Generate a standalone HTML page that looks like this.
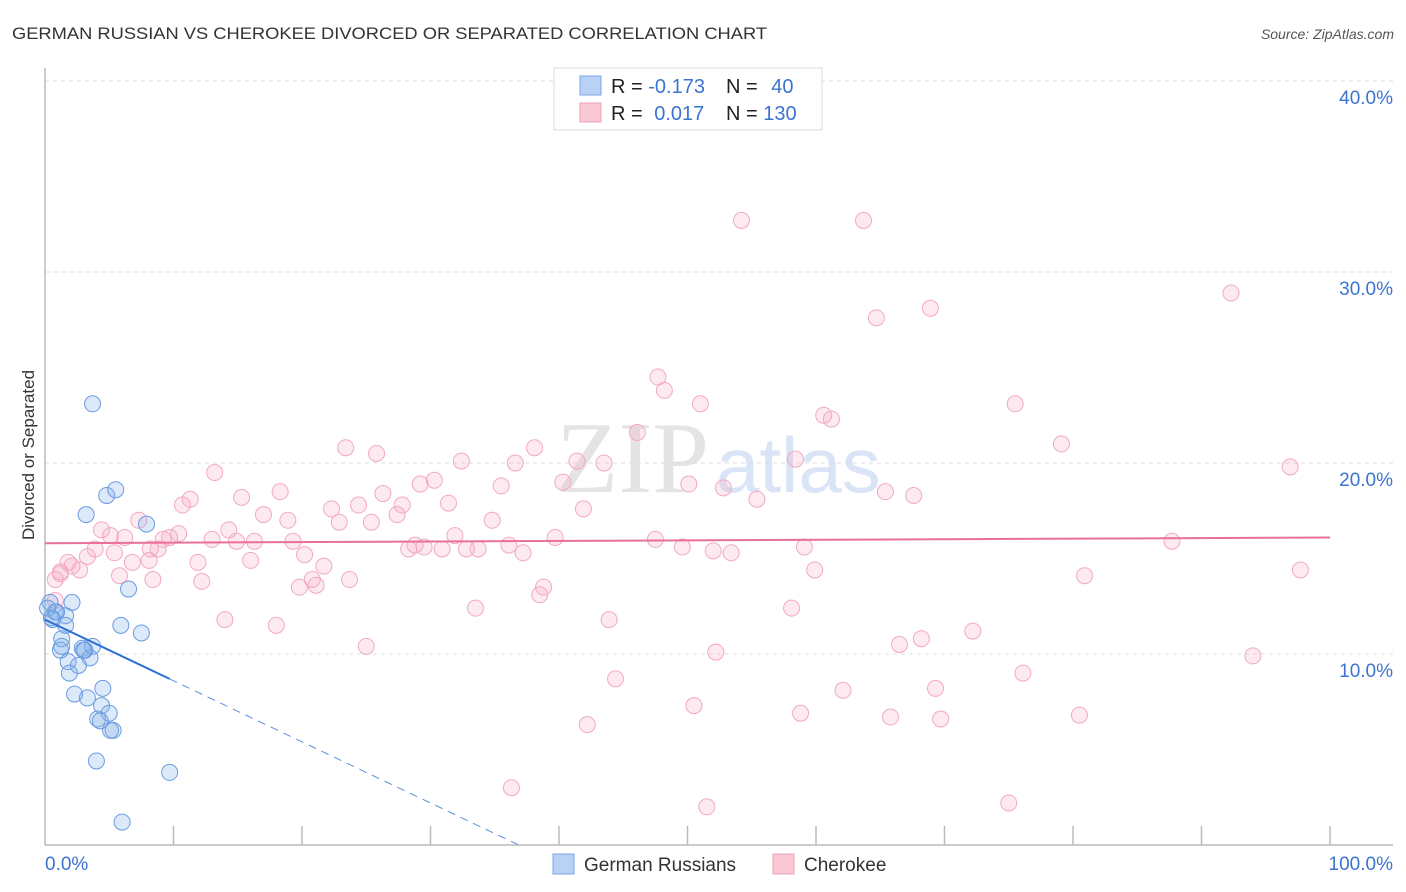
<!DOCTYPE html>
<html><head><meta charset="utf-8"><style>
body{margin:0;background:#fff;font-family:"Liberation Sans",sans-serif;}
svg{display:block}
</style></head><body>
<svg id="chart" width="1406" height="892" xmlns="http://www.w3.org/2000/svg">
<text x="12" y="39" font-size="17" fill="#333" textLength="755" lengthAdjust="spacingAndGlyphs">GERMAN RUSSIAN VS CHEROKEE DIVORCED OR SEPARATED CORRELATION CHART</text>
<text x="1394" y="39" font-size="14" fill="#555" font-style="italic" text-anchor="end">Source: ZipAtlas.com</text>
<g>
<text x="556" y="492" font-size="102" font-family="Liberation Serif,serif" fill="#e4e4e4">ZIP</text>
<text x="716" y="492" font-size="78" fill="#d9e5f6">atlas</text>
</g>
<g id="grid"></g>
<g id="axes"></g>
<g id="marks"></g>
<text transform="translate(34,455) rotate(-90)" font-size="17" fill="#333" text-anchor="middle">Divorced or Separated</text>
<g>
<rect x="554" y="68" width="268" height="62" fill="#fff" stroke="#ddd"/>
<rect x="580" y="76" width="21" height="19" fill="#b8d2f5" stroke="#7aa6e6"/>
<rect x="580" y="103" width="21" height="19" fill="#fbc8d6" stroke="#eea0b8"/>
<text x="611" y="93" font-size="20" fill="#222">R = <tspan fill="#3b74d0">-0.173</tspan></text>
<text x="726" y="93" font-size="20" fill="#222">N = <tspan fill="#3b74d0" dx="8">40</tspan></text>
<text x="611" y="120" font-size="20" fill="#222">R = <tspan fill="#3b74d0" dx="6">0.017</tspan></text>
<text x="726" y="120" font-size="20" fill="#222">N = <tspan fill="#3b74d0">130</tspan></text>
</g>
<g>
<rect x="553" y="854" width="21" height="20" fill="#b8d2f5" stroke="#7aa6e6"/>
<text x="584" y="871" font-size="19" fill="#333">German Russians</text>
<rect x="773" y="854" width="21" height="20" fill="#fbc8d6" stroke="#eea0b8"/>
<text x="804" y="871" font-size="19" fill="#333">Cherokee</text>
</g>
</svg>
<script>
const yTicks=[10,20,30,40];
const yTickLabels=["10.0%","20.0%","30.0%","40.0%"];
const xTickLabels=["0.0%","100.0%"];
const blueX=[3.7,3.2,4.8,5.5,7.9,6.5,5.9,7.5,2.1,1.6,0.8,0.4,0.5,0.9,1.3,1.2,1.6,2.9,3.7,3.5,3.1,1.8,2.6,1.9,2.3,3.3,4.5,4.1,4.4,5.0,5.3,5.1,4.0,9.7,6.0,0.2,0.6,3.0,1.3,4.3];
const blueY=[23.1,17.3,18.3,18.6,16.8,13.4,11.5,11.1,12.7,12.0,12.2,12.7,11.9,12.2,10.8,10.2,11.5,10.3,10.4,9.8,10.2,9.6,9.4,9.0,7.9,7.7,8.2,6.6,7.3,6.9,6.0,6.0,4.4,3.8,1.2,12.4,11.8,10.2,10.4,6.5];
const pinkX=[54.2,63.7,92.3,64.7,68.9,47.7,48.2,51.0,75.5,60.6,61.2,46.1,79.1,23.4,25.8,38.1,32.4,36.6,41.4,43.5,58.4,96.9,13.2,30.3,29.2,35.5,40.3,50.1,52.8,65.4,67.6,55.4,18.3,26.3,15.3,11.3,10.7,31.4,27.8,22.3,24.4,41.9,17.0,27.4,34.8,7.3,25.4,22.9,18.9,6.2,4.4,14.3,10.4,9.2,9.7,13.0,14.9,16.3,19.3,31.9,39.7,47.5,28.3,29.5,28.8,30.9,32.8,33.7,36.1,37.2,49.6,52.0,53.4,59.1,87.7,3.9,3.3,5.1,5.4,8.2,8.8,6.8,8.1,11.9,16.0,20.2,1.8,2.1,2.7,1.2,0.8,5.8,8.4,12.2,20.8,21.1,19.8,21.7,23.7,59.9,80.9,97.7,38.8,38.5,33.5,58.1,43.9,14.0,18.0,25.0,66.5,68.2,72.2,52.2,94.0,76.1,44.4,62.1,69.3,50.5,58.8,65.8,69.7,80.5,42.2,36.3,51.5,75.0,0.8,1.2];
const pinkY=[32.7,32.7,28.9,27.6,28.1,24.5,23.8,23.1,23.1,22.5,22.3,21.6,21.0,20.8,20.5,20.8,20.1,20.0,20.1,20.0,20.2,19.8,19.5,19.1,18.9,18.8,19.0,18.9,18.7,18.5,18.3,18.1,18.5,18.4,18.2,18.1,17.8,17.9,17.8,17.6,17.8,17.6,17.3,17.3,17.0,17.0,16.9,16.9,17.0,16.1,16.5,16.5,16.3,16.0,16.1,16.0,15.9,15.9,15.9,16.2,16.1,16.0,15.5,15.6,15.7,15.5,15.5,15.5,15.7,15.3,15.6,15.4,15.3,15.6,15.9,15.5,15.1,16.2,15.3,15.5,15.5,14.8,14.9,14.8,14.9,15.2,14.8,14.6,14.4,14.3,13.9,14.1,13.9,13.8,13.9,13.6,13.5,14.6,13.9,14.4,14.1,14.4,13.5,13.1,12.4,12.4,11.8,11.8,11.5,10.4,10.5,10.8,11.2,10.1,9.9,9.0,8.7,8.1,8.2,7.3,6.9,6.7,6.6,6.8,6.3,3.0,2.0,2.2,12.8,14.2];
const blueTrend=[11.8,-0.32];
const pinkTrend=[15.8,0.003];

const NS="http://www.w3.org/2000/svg";
const X0=45,X1=1330,Y0=845,PY=19.1;
function sx(v){return X0+(X1-X0)*v/100;}
function sy(v){return Y0-v*PY;}
function mk(tag,attrs,parent){const e=document.createElementNS(NS,tag);for(const k in attrs)e.setAttribute(k,attrs[k]);parent.appendChild(e);return e;}
const grid=document.getElementById('grid'),axes=document.getElementById('axes'),marks=document.getElementById('marks');
yTicks.forEach((t,i)=>{
 const l=mk('line',{x1:45,x2:1393,y1:sy(t),y2:sy(t),stroke:'#ddd','stroke-dasharray':'4,4'},grid);
 
 
 const tx=mk('text',{x:1393,y:sy(t)+23,'font-size':19,fill:'#3b74d0','text-anchor':'end'},axes);
 tx.textContent=yTickLabels[i];
 
 
});
const ax=mk('line',{x1:45,x2:45,y1:68,y2:845,stroke:'#bbb','stroke-width':1.5},axes);


const bx=mk('line',{x1:45,x2:1393,y1:845,y2:845,stroke:'#bbb','stroke-width':1.5},axes);


for(let i=1;i<=10;i++){
 const t=mk('line',{x1:sx(i*10),x2:sx(i*10),y1:826,y2:845,stroke:'#bbb','stroke-width':1.5},axes);
 
 
}
const xl0=mk('text',{x:45,y:870,'font-size':19,fill:'#3b74d0'},axes);xl0.textContent=xTickLabels[0];


const xl1=mk('text',{x:1393,y:870,'font-size':19,fill:'#3b74d0','text-anchor':'end'},axes);xl1.textContent=xTickLabels[1];



pinkX.forEach((x,i)=>{
 const c=mk('circle',{cx:sx(x),cy:sy(pinkY[i]),r:8,fill:'rgba(246,170,196,0.25)',stroke:'#f2a9c1','stroke-width':1},marks);
 
 
});
blueX.forEach((x,i)=>{
 const c=mk('circle',{cx:sx(x),cy:sy(blueY[i]),r:8,fill:'rgba(130,175,235,0.28)',stroke:'#6a9ae2','stroke-width':1},marks);
 
 
});
const bEnd=Math.max(...blueX);
const zeroX=-blueTrend[0]/blueTrend[1];
const bl=mk('line',{x1:sx(0),y1:sy(blueTrend[0]),x2:sx(bEnd),y2:sy(blueTrend[0]+blueTrend[1]*bEnd),stroke:'#2a6fd6','stroke-width':2},marks);


const bd=mk('line',{x1:sx(bEnd),y1:sy(blueTrend[0]+blueTrend[1]*bEnd),x2:sx(zeroX),y2:sy(0),stroke:'#5b8fe0','stroke-width':1,'stroke-dasharray':'8,6'},marks);


const pl=mk('line',{x1:sx(0),y1:sy(pinkTrend[0]),x2:sx(100),y2:sy(pinkTrend[0]+pinkTrend[1]*100),stroke:'#e8709a','stroke-width':2},marks);


</script>
</body></html>
